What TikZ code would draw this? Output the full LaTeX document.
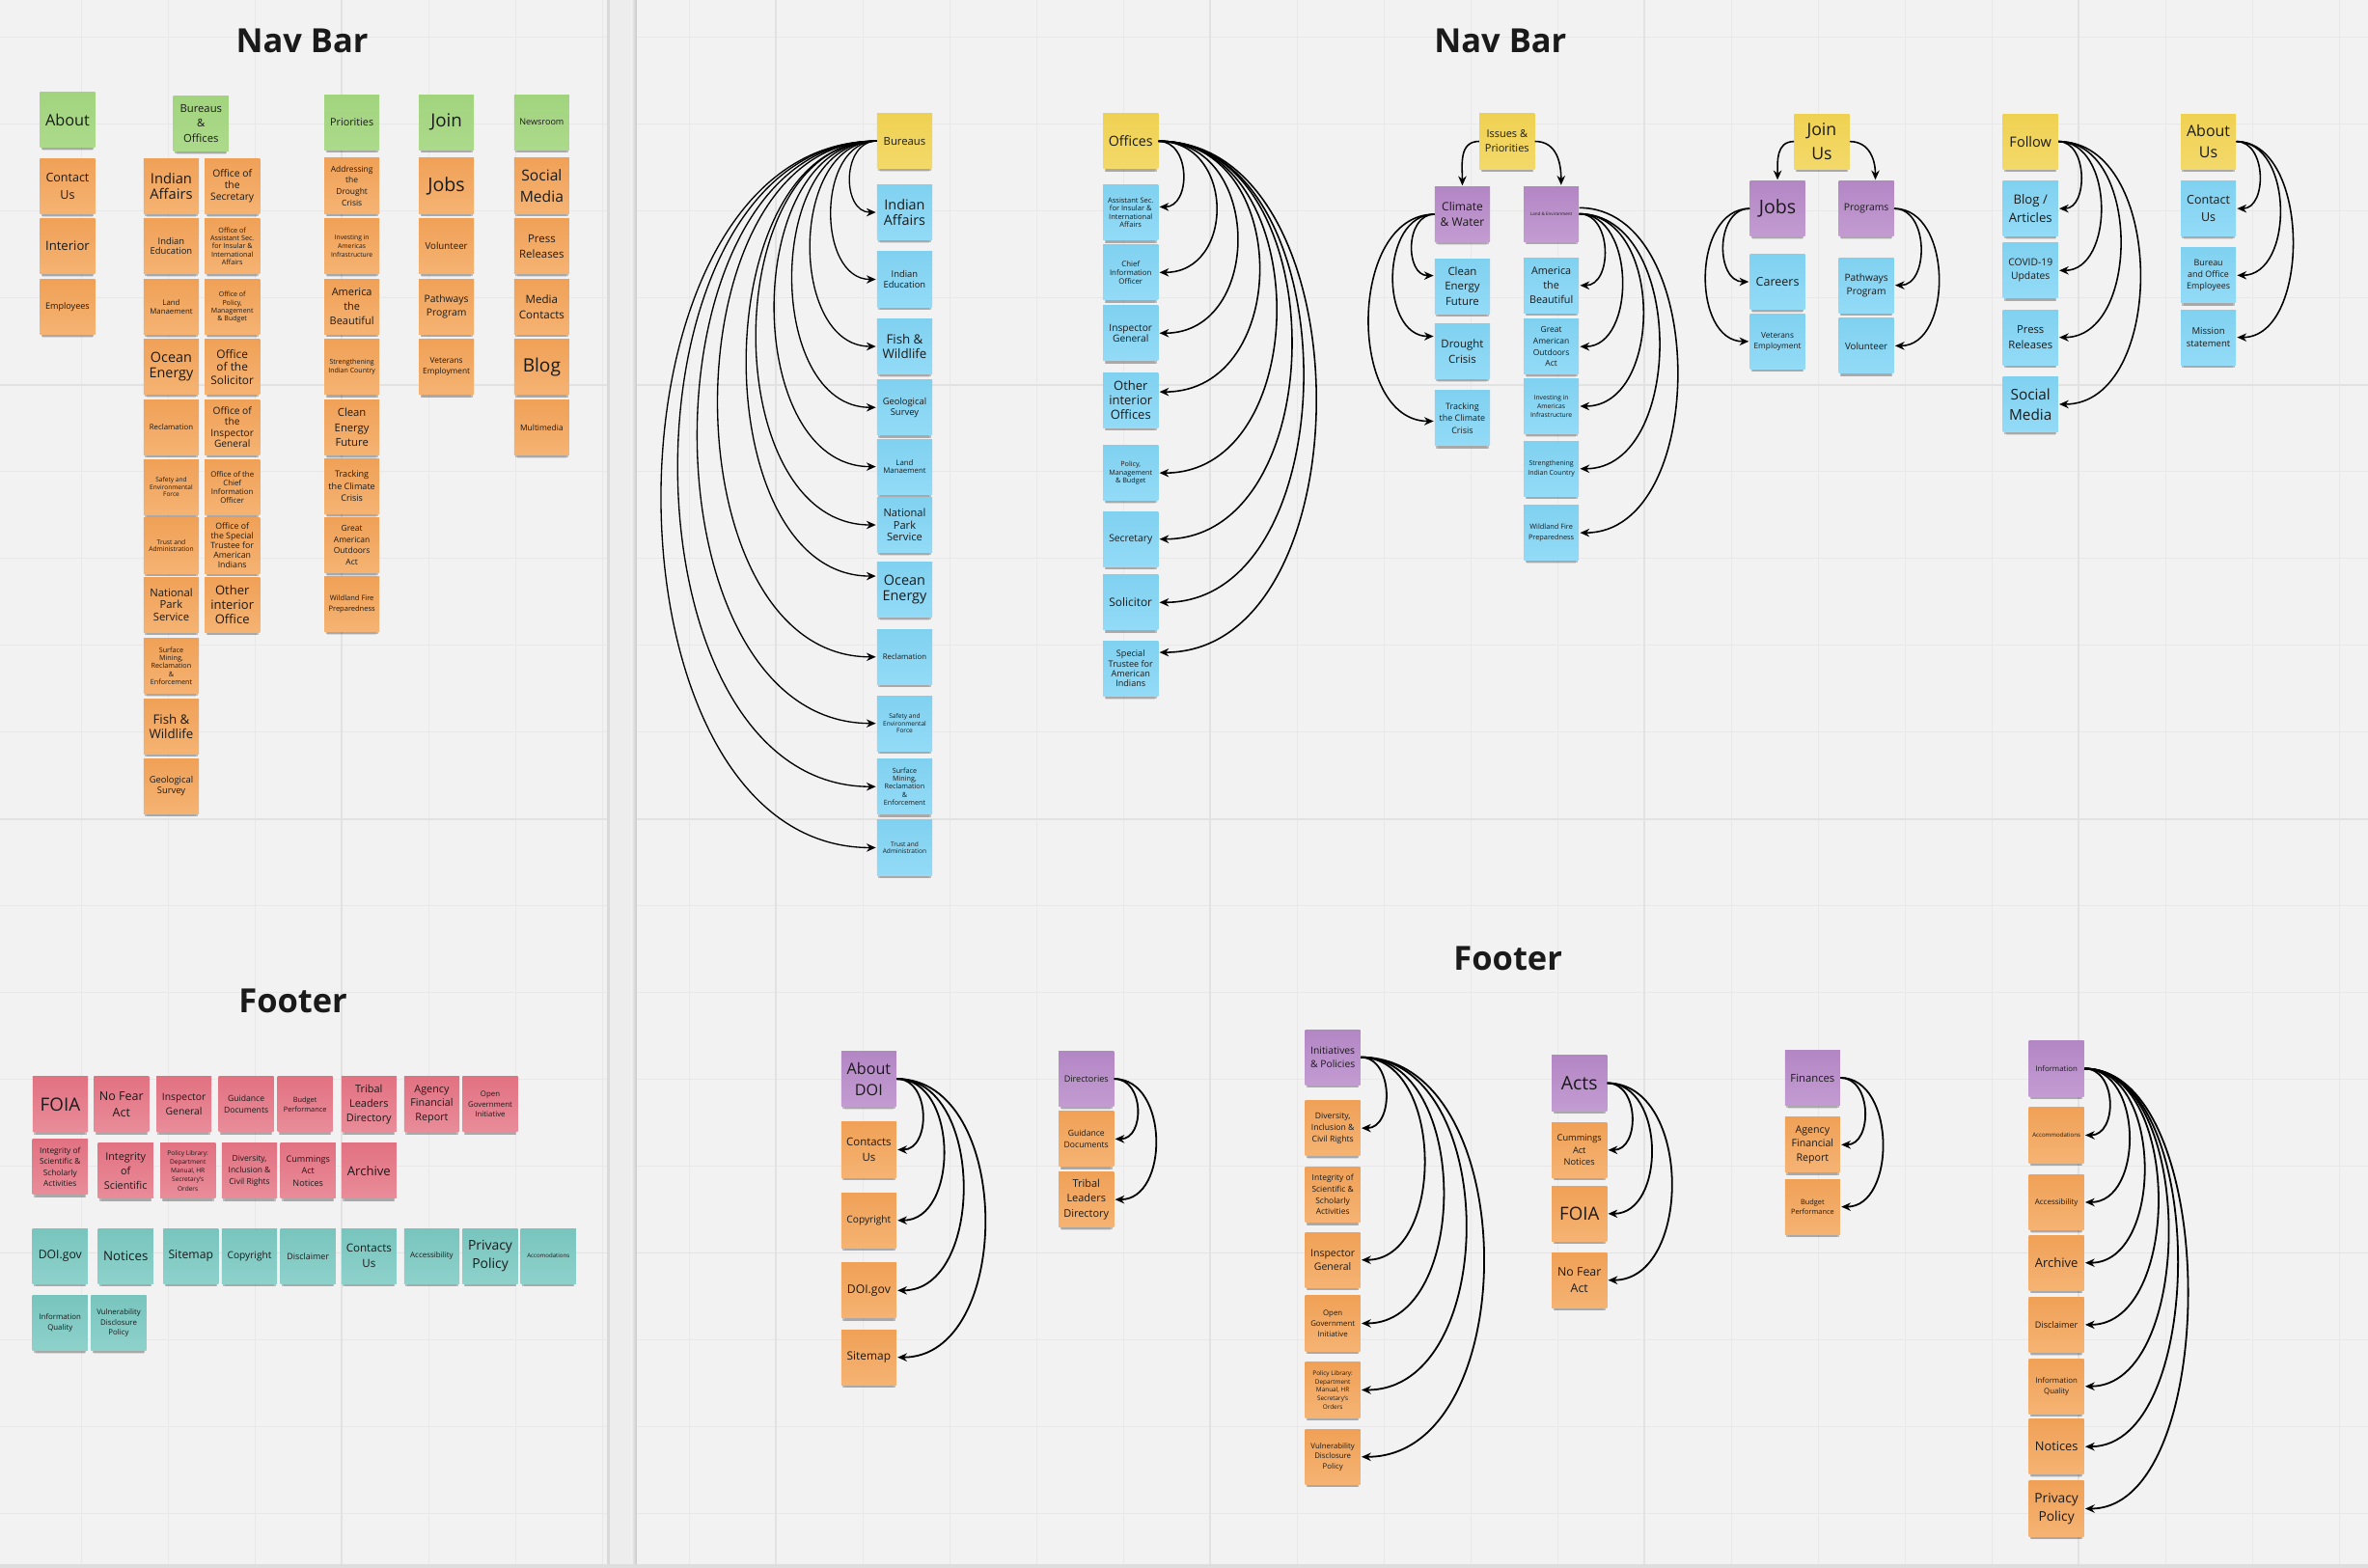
\documentclass[tikz,border=0pt]{standalone}
\usepackage{fontspec}
\setmainfont{Open Sans}
\usetikzlibrary{shadows,arrows.meta}
\definecolor{bg}{HTML}{F2F2F2}
\definecolor{gridc}{HTML}{E8E8E8}
\definecolor{gridm}{HTML}{E2E2E2}
\definecolor{bandc}{HTML}{EDEDED}
\definecolor{gtop}{HTML}{A2D47E}\definecolor{gbot}{HTML}{ACDA8B}
\definecolor{otop}{HTML}{F0A157}\definecolor{obot}{HTML}{F5B373}
\definecolor{ytop}{HTML}{EFD152}\definecolor{ybot}{HTML}{F3D96A}
\definecolor{btop}{HTML}{80D1F0}\definecolor{bbot}{HTML}{93DBF7}
\definecolor{ptop}{HTML}{B386C4}\definecolor{pbot}{HTML}{C39CD2}
\definecolor{rtop}{HTML}{E27282}\definecolor{rbot}{HTML}{E98C99}
\definecolor{ttop}{HTML}{78C5BE}\definecolor{tbot}{HTML}{8ED1CB}
\definecolor{ink}{HTML}{1A1A1A}
\begin{document}
\begin{tikzpicture}[x=1pt,y=-1pt,
  note/.style={rectangle, minimum width=36.5pt, minimum height=36.5pt, inner sep=0.5pt,
    align=center, text=ink,
    general shadow={fill=black, opacity=0.10, shadow yshift=-4.2pt, shadow scale=0.9},
    general shadow={fill=black, opacity=0.22, shadow yshift=-2.8pt, shadow scale=0.95}},
  gnote/.style={note, top color=gtop, bottom color=gbot},
  onote/.style={note, top color=otop, bottom color=obot},
  ynote/.style={note, top color=ytop, bottom color=ybot},
  bnote/.style={note, top color=btop, bottom color=bbot},
  pnote/.style={note, top color=ptop, bottom color=pbot},
  rnote/.style={note, top color=rtop, bottom color=rbot},
  tnote/.style={note, top color=ttop, bottom color=tbot},
  fs/.style={font=\fontsize{#1}{\fpeval{#1*1.38}}\selectfont},
  fsc/.style={font=\fontsize{#1}{\fpeval{#1*1.14}}\selectfont},
  title/.style={font=\bfseries\fontsize{22}{26}\selectfont, text=ink},
  conn/.style={-{Stealth[length=6.2pt,width=5.4pt]}, line width=1.0pt, shorten >=0.6pt, black},
  thinconn/.style={conn, line width=0.85pt},
  thickconn/.style={conn, line width=1.15pt},
]
\useasboundingbox (0,0) rectangle (1568,1038);
\fill[bg] (0,0) rectangle (1568,1038);
% grid
\foreach \i in {0,...,27} \draw[gridc, line width=0.8pt] ({-3.6+57.5*\i},0) -- ({-3.6+57.5*\i},1038);
\foreach \j in {0,...,17} \draw[gridc, line width=0.8pt] (0,{24.7+57.5*\j}) -- (1568,{24.7+57.5*\j});
\foreach \x in {226.4,513.9,801.4,1088.9,1376.4} \draw[gridm, line width=1.1pt] (\x,0) -- (\x,1038);
\foreach \y in {254.7,542.2,829.7} \draw[gridm, line width=1.2pt] (0,\y) -- (1568,\y);
% divider band and bottom edge
\fill[bandc] (402.6,0) rectangle (421.7,1038);
\fill[black!15] (402.2,0) rectangle (403.8,1038);
\shade[left color=bandc, right color=black!22] (418.3,0) rectangle (421.7,1038);
\fill[black!13] (0,1035.6) rectangle (1568,1038);

% titles
\node[title] (t1) at (200,27) {Nav Bar};
\node[title] (t2) at (194,663) {Footer};
\node[title] (t3) at (993.5,27) {Nav Bar};
\node[title] (t4) at (998.5,635) {Footer};

% ===== LEFT NAV =====
\node[gnote,fs=10.4] (about) at (44.7,79.2) {About};
\node[onote,fs=8] (lcontact) at (44.7,123.3) {Contact\\Us};
\node[onote,fs=8.4] (linterior) at (44.7,163) {Interior};
\node[onote,fs=5.8] (lemployees) at (44.7,203.3) {Employees};
\node[gnote,fs=7.2] (lbo) at (133.1,81.8) {Bureaus\\\&\\Offices};

\node[onote,fsc=9.4] (lb1) at (113.4,123.3) {Indian\\Affairs};
\node[onote,fsc=6] (lb2) at (113.4,163) {Indian\\Education};
\node[onote,fsc=5] (lb3) at (113.4,203.3) {Land\\Manaement};
\node[onote,fsc=9.2] (lb4) at (113.4,242.9) {Ocean\\Energy};
\node[onote,fsc=5] (lb5) at (113.4,282.9) {Reclamation};
\node[onote,fsc=4.2] (lb6) at (113.4,322.5) {Safety and\\Environmental\\Force};
\node[onote,fsc=4.3] (lb7) at (113.4,361.3) {Trust and\\Administration};
\node[onote,fsc=7.2] (lb8) at (113.4,400.4) {National\\Park\\Service};
\node[onote,fsc=4.6] (lb9) at (113.4,441) {Surface\\Mining,\\Reclamation\\\&\\Enforcement};
\node[onote,fsc=8.5] (lb10) at (113.4,481) {Fish \&\\Wildlife};
\node[onote,fsc=6] (lb11) at (113.4,520.6) {Geological\\Survey};

\node[onote,fsc=6.6] (lo1) at (153.8,123.3) {Office of\\the\\Secretary};
\node[onote,fsc=4.6] (lo2) at (153.8,163) {Office of\\Assistant Sec.\\for Insular \&\\International\\Affairs};
\node[onote,fsc=4.5] (lo3) at (153.8,203.3) {Office of\\Policy,\\Management\\\& Budget};
\node[onote,fsc=7.6] (lo4) at (153.8,242.9) {Office\\of the\\Solicitor};
\node[onote,fsc=6.5] (lo5) at (153.8,282.9) {Office of\\the\\Inspector\\General};
\node[onote,fsc=5] (lo6) at (153.8,322.5) {Office of the\\Chief\\Information\\Officer};
\node[onote,fsc=5.6] (lo7) at (153.8,361.3) {Office of\\the Special\\Trustee for\\American\\Indians};
\node[onote,fsc=8.3] (lo8) at (153.8,400.4) {Other\\interior\\Office};

\node[gnote,fs=6.9] (lpri) at (233,81) {Priorities};
\node[onote,fs=5.4] (lp1) at (233,123) {Addressing\\the\\Drought\\Crisis};
\node[onote,fs=4.3] (lp2) at (233,163) {Investing in\\Americas\\Infrastructure};
\node[onote,fs=7] (lp3) at (233,203) {America\\the\\Beautiful};
\node[onote,fs=4.5] (lp4) at (233,243) {Strengthening\\Indian Country};
\node[onote,fs=7.2] (lp5) at (233,283) {Clean\\Energy\\Future};
\node[onote,fs=5.8] (lp6) at (233,322) {Tracking\\the Climate\\Crisis};
\node[onote,fs=5.4] (lp7) at (233,361) {Great\\American\\Outdoors\\Act};
\node[onote,fs=4.8] (lp8) at (233,400) {Wildland Fire\\Preparedness};

\node[gnote,fs=12] (ljoin) at (295.6,81) {Join};
\node[onote,fs=12.5] (lj1) at (295.6,123) {Jobs};
\node[onote,fs=6.2] (lj2) at (295.6,163) {Volunteer};
\node[onote,fs=6.6] (lj3) at (295.6,203) {Pathways\\Program};
\node[onote,fs=5.3] (lj4) at (295.6,243) {Veterans\\Employment};

\node[gnote,fs=5.8] (lnews) at (358.7,81) {Newsroom};
\node[onote,fs=10] (ln1) at (358.7,123) {Social\\Media};
\node[onote,fs=7.3] (ln2) at (358.7,163) {Press\\Releases};
\node[onote,fs=7.4] (ln3) at (358.7,203) {Media\\Contacts};
\node[onote,fs=12.2] (ln4) at (358.7,243) {Blog};
\node[onote,fs=5.4] (ln5) at (358.7,283) {Multimedia};

% ===== LEFT FOOTER =====
\node[rnote,fs=12] (lf1) at (39.9,731.2) {FOIA};
\node[rnote,fs=8] (lf2) at (80.4,731.2) {No Fear\\Act};
\node[rnote,fs=6.6] (lf3) at (121.8,731.2) {Inspector\\General};
\node[rnote,fs=5.5] (lf4) at (163,731.2) {Guidance\\Documents};
\node[rnote,fs=4.7] (lf5) at (202,731.2) {Budget\\Performance};
\node[rnote,fs=7] (lf6) at (244.3,731.2) {Tribal\\Leaders\\Directory};
\node[rnote,fs=6.9] (lf7) at (285.9,731.2) {Agency\\Financial\\Report};
\node[rnote,fs=5] (lf8) at (324.6,731.2) {Open\\Government\\Initiative};

\node[rnote,fs=5.3] (lg1) at (39.8,772.7) {Integrity of\\Scientific \&\\Scholarly\\Activities};
\node[rnote,fs=6.9] (lg2) at (83.2,775.3) {Integrity\\of\\Scientific};
\node[rnote,fs=4.2] (lg3) at (124.4,775.3) {Policy Library:\\Department\\Manual, HR\\Secretary's\\Orders};
\node[rnote,fs=5.4] (lg4) at (165.2,775.3) {Diversity,\\Inclusion \&\\Civil Rights};
\node[rnote,fs=5.8] (lg5) at (204,775.3) {Cummings\\Act\\Notices};
\node[rnote,fs=8.4] (lg6) at (244.3,775.3) {Archive};

\node[tnote,fs=7.8] (lh1) at (39.8,831.7) {DOI.gov};
\node[tnote,fs=8.5] (lh2) at (83.2,831.7) {Notices};
\node[tnote,fs=7.8] (lh3) at (126.4,831.7) {Sitemap};
\node[tnote,fs=6.5] (lh4) at (165.2,831.7) {Copyright};
\node[tnote,fs=5.7] (lh5) at (204,831.7) {Disclaimer};
\node[tnote,fs=7.4] (lh6) at (244.3,831.7) {Contacts\\Us};
\node[tnote,fs=5.1] (lh7) at (285.9,831.7) {Accessibility};
\node[tnote,fs=8.9] (lh8) at (324.6,831.7) {Privacy\\Policy};
\node[tnote,fs=3.9] (lh9) at (363.1,831.7) {Accomodations};

\node[tnote,fs=5] (lk1) at (39.8,876) {Information\\Quality};
\node[tnote,fs=5] (lk2) at (78.6,876) {Vulnerability\\Disclosure\\Policy};

% ===== RIGHT NAV: Bureaus =====
\node[ynote,fs=7.2] (bureaus) at (599,93.4) {Bureaus};
\node[bnote,fsc=9.2] (rb1) at (599,140.6) {Indian\\Affairs};
\node[bnote,fsc=6] (rb2) at (599,185) {Indian\\Education};
\node[bnote,fsc=8.5] (rb3) at (599,229.4) {Fish \&\\Wildlife};
\node[bnote,fsc=6] (rb4) at (599,269.8) {Geological\\Survey};
\node[bnote,fsc=5] (rb5) at (599,309) {Land\\Manaement};
\node[bnote,fsc=7.1] (rb6) at (599,347.6) {National\\Park\\Service};
\node[bnote,fsc=9.2] (rb7) at (599,390.5) {Ocean\\Energy};
\node[bnote,fsc=5] (rb8) at (599,435) {Reclamation};
\node[bnote,fsc=4.2] (rb9) at (599,479) {Safety and\\Environmental\\Force};
\node[bnote,fsc=4.6] (rb10) at (599,520.9) {Surface\\Mining,\\Reclamation\\\&\\Enforcement};
\node[bnote,fsc=4.2] (rb11) at (599,561.3) {Trust and\\Administration};

% Offices
\node[ynote,fs=9.1] (offices) at (748.7,93.5) {Offices};
\node[bnote,fsc=4.8] (ro1) at (748.7,140.7) {Assistant Sec.\\for Insular \&\\International\\Affairs};
\node[bnote,fsc=5] (ro2) at (748.7,180.4) {Chief\\Information\\Officer};
\node[bnote,fsc=6.5] (ro3) at (748.7,220.6) {Inspector\\General};
\node[bnote,fsc=8.3] (ro4) at (748.7,265) {Other\\interior\\Offices};
\node[bnote,fsc=4.6] (ro5) at (748.7,313.2) {Policy,\\Management\\\& Budget};
\node[bnote,fsc=6.6] (ro6) at (748.7,357) {Secretary};
\node[bnote,fsc=7.6] (ro7) at (748.7,398.9) {Solicitor};
\node[bnote,fsc=5.8] (ro8) at (748.7,442.8) {Special\\Trustee for\\American\\Indians};

% Issues & Priorities
\node[ynote,fs=7] (issues) at (997.9,93.6) {Issues \&\\Priorities};
\node[pnote,fs=7.7] (climate) at (968.3,141.9) {Climate\\\& Water};
\node[pnote,fs=2.9] (landenv) at (1027.2,141.6) {Land \& Environment};
\node[bnote,fs=7.3] (clean) at (968.3,189.5) {Clean\\Energy\\Future};
\node[bnote,fs=7.3] (drought) at (968.3,232.7) {Drought\\Crisis};
\node[bnote,fs=5.7] (tracking) at (968.3,276.9) {Tracking\\the Climate\\Crisis};
\node[bnote,fs=6.9] (america) at (1027.2,189) {America\\the\\Beautiful};
\node[bnote,fs=5.4] (great) at (1027.2,229.5) {Great\\American\\Outdoors\\Act};
\node[bnote,fs=4.3] (investing) at (1027.2,269) {Investing in\\Americas\\Infrastructure};
\node[bnote,fs=4.5] (strength) at (1027.2,310.4) {Strengthening\\Indian Country};
\node[bnote,fs=4.7] (wildland) at (1027.2,352.8) {Wildland Fire\\Preparedness};

% Join Us
\node[ynote,fs=11.3] (joinus) at (1206.3,93.7) {Join\\Us};
\node[pnote,fs=12.5] (jobs) at (1177,138.1) {Jobs};
\node[pnote,fs=6.6] (programs) at (1235.8,138.1) {Programs};
\node[bnote,fs=8] (careers) at (1177,186.6) {Careers};
\node[bnote,fs=5.3] (veterans) at (1177,226.1) {Veterans\\Employment};
\node[bnote,fs=6.5] (pathways) at (1235.8,188.9) {Pathways\\Program};
\node[bnote,fs=6.2] (volunteer) at (1235.8,229) {Volunteer};

% Follow
\node[ynote,fs=9.3] (follow) at (1344.5,93.7) {Follow};
\node[bnote,fs=8.4] (blog) at (1344.5,138.1) {Blog /\\Articles};
\node[bnote,fs=6.6] (covid) at (1344.5,179.1) {COVID-19\\Updates};
\node[bnote,fs=7.2] (press) at (1344.5,223.4) {Press\\Releases};
\node[bnote,fs=9.8] (social) at (1344.5,267.7) {Social\\Media};

% About Us
\node[ynote,fs=10.2] (aboutus) at (1462.3,93.7) {About\\Us};
\node[bnote,fs=8] (contactus) at (1462.3,138.1) {Contact\\Us};
\node[bnote,fs=5.7] (bureauemp) at (1462.3,182.3) {Bureau\\and Office\\Employees};
\node[bnote,fs=6.1] (mission) at (1462.3,223.4) {Mission\\statement};

% ===== RIGHT FOOTER =====
\node[pnote,fs=10.3] (aboutdoi) at (575.3,714.4) {About\\DOI};
\node[onote,fs=7.3] (fcontacts) at (575.3,761.3) {Contacts\\Us};
\node[onote,fs=6.5] (fcopyright) at (575.3,808.1) {Copyright};
\node[onote,fs=7.8] (fdoigov) at (575.3,854.5) {DOI.gov};
\node[onote,fs=7.6] (fsitemap) at (575.3,898.8) {Sitemap};

\node[pnote,fs=5.8] (directories) at (719.3,714.4) {Directories};
\node[onote,fs=5.5] (fguidance) at (719.3,754.2) {Guidance\\Documents};
\node[onote,fs=7] (ftribal) at (719.3,794.3) {Tribal\\Leaders\\Directory};

\node[pnote,fs=6.6] (initiatives) at (882.5,700.1) {Initiatives\\\& Policies};
\node[onote,fs=5.5] (i1) at (882.5,747) {Diversity,\\Inclusion \&\\Civil Rights};
\node[onote,fs=5.4] (i2) at (882.5,791.2) {Integrity of\\Scientific \&\\Scholarly\\Activities};
\node[onote,fs=6.7] (i3) at (882.5,834.3) {Inspector\\General};
\node[onote,fs=5] (i4) at (882.5,876.3) {Open\\Government\\Initiative};
\node[onote,fs=4.1] (i5) at (882.5,920.4) {Policy Library:\\Department\\Manual, HR\\Secretary's\\Orders};
\node[onote,fs=5] (i6) at (882.5,964.7) {Vulnerability\\Disclosure\\Policy};

\node[pnote,fs=12.4] (acts) at (1045.8,717.2) {Acts};
\node[onote,fs=5.9] (a1) at (1045.8,761.5) {Cummings\\Act\\Notices};
\node[onote,fs=11.9] (a2) at (1045.8,803.7) {FOIA};
\node[onote,fs=7.9] (a3) at (1045.8,847.7) {No Fear\\Act};

\node[pnote,fs=7.2] (finances) at (1200.2,713.7) {Finances};
\node[onote,fs=6.8] (fi1) at (1200.2,758) {Agency\\Financial\\Report};
\node[onote,fs=4.7] (fi2) at (1200.2,799.1) {Budget\\Performance};

\node[pnote,fs=5] (information) at (1361.7,707.6) {Information};
\node[onote,fs=3.9] (n1) at (1361.7,751.7) {Accommodations};
\node[onote,fs=5.1] (n2) at (1361.7,796.1) {Accessibility};
\node[onote,fs=8.3] (n3) at (1361.7,836.2) {Archive};
\node[onote,fs=5.8] (n4) at (1361.7,877.2) {Disclaimer};
\node[onote,fs=5] (n5) at (1361.7,918) {Information\\Quality};
\node[onote,fs=8.2] (n6) at (1361.7,957.9) {Notices};
\node[onote,fs=8.8] (n7) at (1361.7,999) {Privacy\\Policy};

% ===== CONNECTORS =====
\foreach \t/\s/\l in {rb1/0pt/1.27, rb2/0pt/1.12, rb3/0pt/1.10, rb4/0pt/1.08, rb5/0pt/1.07,
  rb6/0pt/1.07, rb7/9pt/1.02, rb8/0pt/1.05, rb9/0pt/1.05, rb10/0pt/1.05, rb11/0pt/1.04}
  \draw[thinconn] (bureaus.west) to[out=180,in=180,looseness=\l] ([yshift=\s]\t.west);

\foreach \t/\s/\l in {ro1/3.7pt/1.27, ro2/0pt/1.5, ro3/0pt/1.4, ro4/5.5pt/1.37, ro5/0pt/1.21,
  ro6/0pt/1.14, ro7/0pt/1.07, ro8/10.8pt/1.05}
  \draw[conn] (offices.east) to[out=0,in=0,looseness=\l] ([yshift=\s]\t.east);

\draw[conn] (issues.west) to[out=180,in=90,looseness=1.1] (climate.north);
\draw[conn] (issues.east) to[out=0,in=90,looseness=1.1] ([xshift=6.5pt]landenv.north);
\foreach \t/\s/\l in {clean/7pt/1.24, drought/10pt/1.15, tracking/-2pt/1.08}
  \draw[conn] (climate.west) to[out=180,in=180,looseness=\l] ([yshift=\s]\t.west);
\foreach \t/\l in {america/1.2, great/1.1, investing/1.13, strength/1.07}
  \draw[conn] (landenv.east) to[out=0,in=0,looseness=\l] (\t.east);
\draw[conn] ([yshift=4pt]landenv.east) to[out=0,in=0,looseness=1.03] (wildland.east);

\draw[conn] (joinus.west) to[out=180,in=90,looseness=1.1] (jobs.north);
\draw[conn] (joinus.east) to[out=0,in=90,looseness=1.1] ([xshift=6pt]programs.north);
\foreach \t/\l in {careers/1.21, veterans/1.12}
  \draw[conn] (jobs.west) to[out=180,in=180,looseness=\l] (\t.west);
\foreach \t/\l in {pathways/1.17, volunteer/1.1}
  \draw[conn] (programs.east) to[out=0,in=0,looseness=\l] (\t.east);
\foreach \t/\l in {blog/1.14, covid/1.12, press/1.08, social/1.06}
  \draw[conn] (follow.east) to[out=0,in=0,looseness=\l] (\t.east);
\foreach \t/\l in {contactus/1.18, bureauemp/1.11, mission/0.98}
  \draw[conn] (aboutus.east) to[out=0,in=0,looseness=\l] (\t.east);

\foreach \t/\l in {fcontacts/1.24, fcopyright/1.13, fdoigov/1.07, fsitemap/1.08}
  \draw[thickconn] (aboutdoi.east) to[out=0,in=0,looseness=\l] (\t.east);
\foreach \t/\l in {fguidance/1.31, ftribal/1.17}
  \draw[thickconn] (directories.east) to[out=0,in=0,looseness=\l] (\t.east);
\foreach \t/\l in {i1/1.21, i3/1.07, i4/1.06, i5/1.08, i6/1.05}
  \draw[thickconn] (initiatives.east) to[out=0,in=0,looseness=\l] (\t.east);
\foreach \t/\l in {a1/1.25, a2/1.15, a3/1.11}
  \draw[thickconn] (acts.east) to[out=0,in=0,looseness=\l] (\t.east);
\foreach \t/\l in {fi1/1.23, fi2/1.11}
  \draw[thickconn] (finances.east) to[out=0,in=0,looseness=\l] (\t.east);
\foreach \t/\l in {n1/1.28, n2/1.14, n3/1.05, n4/0.98, n5/0.9, n6/0.84, n7/0.8}
  \draw[thickconn] (information.east) to[out=0,in=0,looseness=\l] (\t.east);
\end{tikzpicture}
\end{document}
